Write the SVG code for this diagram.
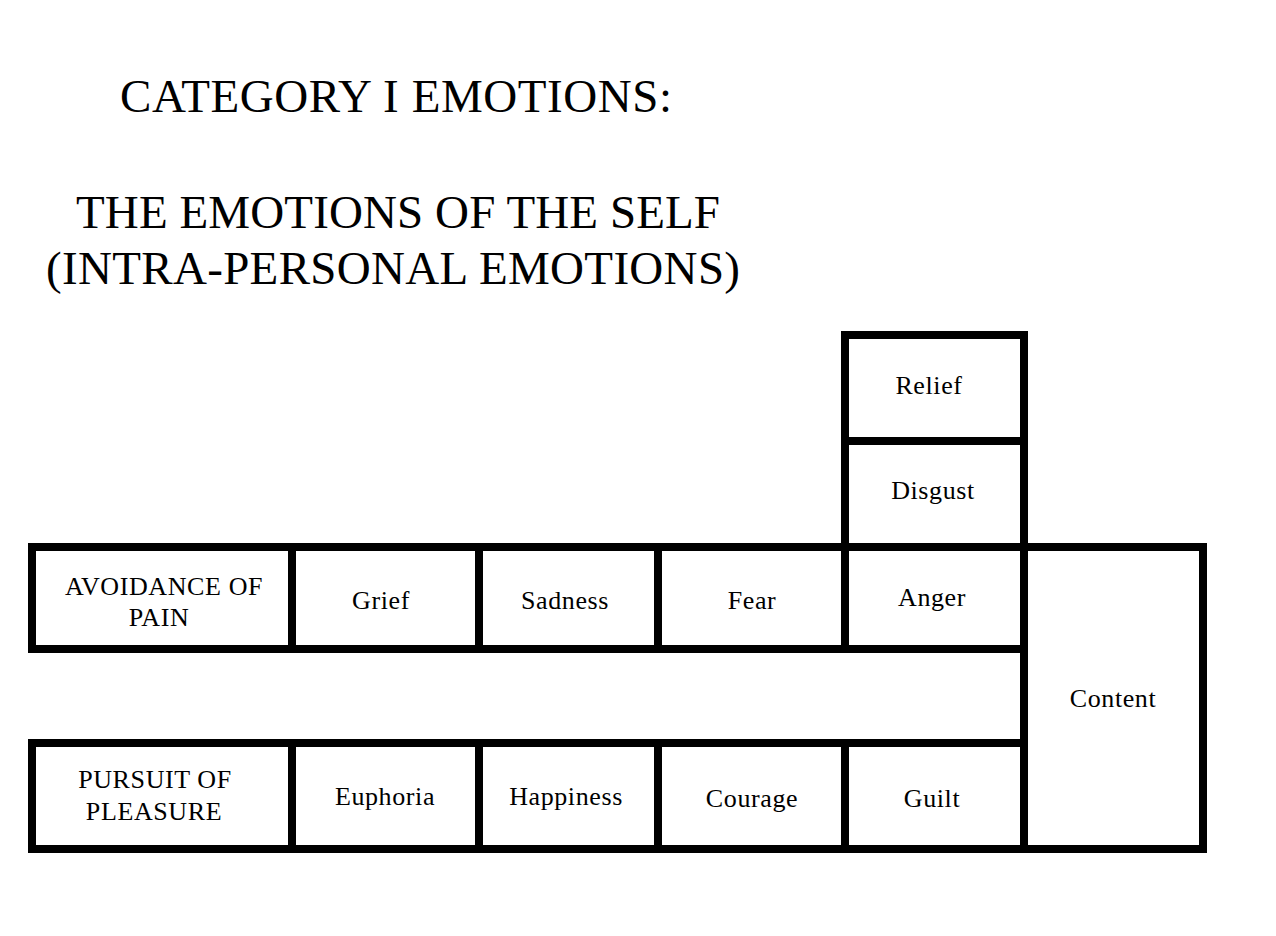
<svg xmlns="http://www.w3.org/2000/svg" width="1276" height="936" viewBox="0 0 1276 936">
<style>
.cell{fill:#fff;stroke:#000;stroke-width:8;stroke-linejoin:miter}
.lbl{font-family:"Liberation Serif","Times New Roman",serif;font-size:26px;letter-spacing:0.6px;fill:#000;text-anchor:middle}
.title{font-family:"Liberation Serif","Times New Roman",serif;font-size:47px;fill:#000}
</style>
<rect x="0" y="0" width="1276" height="936" fill="#fff"/>
<g id="titles">
<text class="title" x="120" y="112" textLength="552" lengthAdjust="spacing">CATEGORY I EMOTIONS:</text>
<text class="title" x="76" y="228" textLength="644" lengthAdjust="spacing">THE EMOTIONS OF THE SELF</text>
<text class="title" x="46" y="284" textLength="694" lengthAdjust="spacing">(INTRA-PERSONAL EMOTIONS)</text>
</g>
<g id="content"><rect class="cell" x="1024" y="547" width="179" height="302"/><text class="lbl" x="1113" y="707">Content</text></g>
<g id="relief"><rect class="cell" x="845" y="335" width="179" height="106"/><text class="lbl" x="929" y="394">Relief</text></g>
<g id="disgust"><rect class="cell" x="845" y="441" width="179" height="106"/><text class="lbl" x="933" y="499">Disgust</text></g>
<g id="avoidance"><rect class="cell" x="32" y="547" width="260" height="102"/><text class="lbl" x="164" y="595">AVOIDANCE OF</text><text class="lbl" x="159" y="626">PAIN</text></g>
<g id="grief"><rect class="cell" x="292" y="547" width="187" height="102"/><text class="lbl" x="381" y="609">Grief</text></g>
<g id="sadness"><rect class="cell" x="479" y="547" width="179" height="102"/><text class="lbl" x="565" y="609">Sadness</text></g>
<g id="fear"><rect class="cell" x="658" y="547" width="187" height="102"/><text class="lbl" x="752" y="609">Fear</text></g>
<g id="anger"><rect class="cell" x="845" y="547" width="179" height="102"/><text class="lbl" x="932" y="606">Anger</text></g>
<g id="pursuit"><rect class="cell" x="32" y="743" width="260" height="106"/><text class="lbl" x="155" y="788">PURSUIT OF</text><text class="lbl" x="154" y="820">PLEASURE</text></g>
<g id="euphoria"><rect class="cell" x="292" y="743" width="187" height="106"/><text class="lbl" x="385" y="805">Euphoria</text></g>
<g id="happiness"><rect class="cell" x="479" y="743" width="179" height="106"/><text class="lbl" x="566" y="805">Happiness</text></g>
<g id="courage"><rect class="cell" x="658" y="743" width="187" height="106"/><text class="lbl" x="752" y="807">Courage</text></g>
<g id="guilt"><rect class="cell" x="845" y="743" width="179" height="106"/><text class="lbl" x="932" y="807">Guilt</text></g>
</svg>
